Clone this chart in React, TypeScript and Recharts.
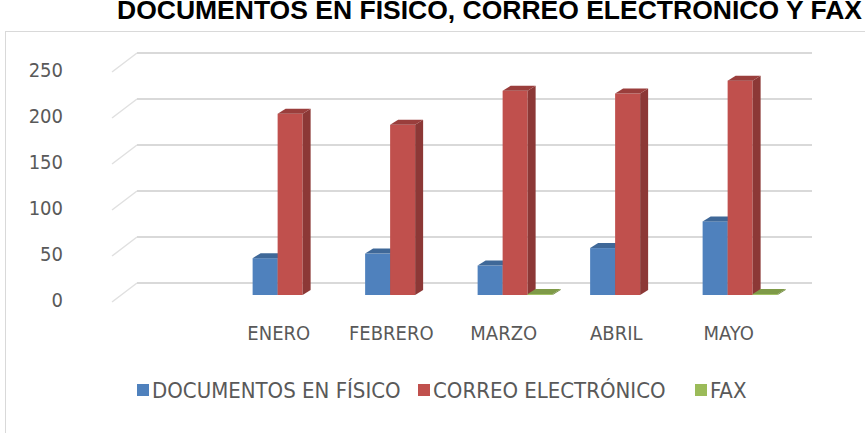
import { BarChart, Bar, XAxis, YAxis, CartesianGrid } from "recharts";

const months = ["", "ENERO", "FEBRERO", "MARZO", "ABRIL", "MAYO"];
const docs = [null, 40, 45, 32, 51, 80];
const email = [null, 197, 185, 222, 219, 233];
const fax = [null, null, null, 1, null, 1];
const yTicks = [0, 50, 100, 150, 200, 250];

const seriesNames = ["DOCUMENTOS EN FÍSICO", "CORREO ELECTRÓNICO", "FAX"];
const seriesColors = ["#4F81BD", "#C0504D", "#9BBB59"];
const sideColors = ["#385D8A", "#8C3836", "#71893F"];
const topColors = ["#3F6898", "#9A3E3C", "#7E9A47"];
const legendLeft = [137, 418, 695];

const data = months.map((m, i) => ({
  month: m,
  docs: docs[i],
  email: email[i],
  fax: fax[i],
}));

const FONT = '"Liberation Sans Narrow", "DejaVu Sans Condensed", sans-serif';
const TEXT = "#595959";
const DX = 8;
const DY = 5;

function make3D(idx: number, key: string) {
  return (props: any) => {
    const { x, y, width, height, payload } = props;
    if (x == null || payload == null || payload[key] == null) return <g />;
    const r = x + width;
    const b = y + height;
    return (
      <g>
        <rect x={x} y={y} width={width} height={Math.max(height, 0)} fill={seriesColors[idx]} />
        <polygon
          points={`${r},${y} ${r + DX},${y - DY} ${r + DX},${b - DY} ${r},${b}`}
          fill={sideColors[idx]}
        />
        <polygon
          points={`${x},${y} ${x + DX},${y - DY} ${r + DX},${y - DY} ${r},${y}`}
          fill={topColors[idx]}
        />
      </g>
    );
  };
}

// back-wall gridlines with the little floor stub on the left
const gridLine = (p: any) => {
  const y = p.y1;
  return (
    <g key={`g-${p.index}`}>
      <line x1={112} y1={y + 7} x2={137} y2={y - 12} stroke="#e0e0e0" strokeWidth={1.5} />
      <line x1={137} y1={y - 12} x2={812} y2={y - 12} stroke="#d9d9d9" strokeWidth={2} />
    </g>
  );
};

const YTick = (p: any) => (
  <text x={63} y={p.y + 5} dy={7} textAnchor="end" fill={TEXT} fontSize={20} fontFamily={FONT}>
    {p.payload.value}
  </text>
);

const XTick = (p: any) => (
  <text x={p.x - 11} y={340} textAnchor="middle" fill={TEXT} fontSize={20} fontFamily={FONT}>
    {p.payload.value}
  </text>
);

export default function App() {
  return (
    <div
      style={{
        position: "absolute",
        left: 0,
        top: 0,
        width: 865,
        height: 433,
        overflow: "hidden",
        background: "#fff",
      }}
    >
      <div
        style={{
          position: "absolute",
          left: 5,
          top: 31,
          width: 900,
          height: 500,
          border: "1.5px solid #d9d9d9",
        }}
      />
      <div
        style={{
          position: "absolute",
          left: 117,
          top: -5,
          whiteSpace: "nowrap",
          fontFamily: '"Liberation Sans", Arial, sans-serif',
          fontWeight: "bold",
          fontSize: 26.5,
          color: "#000",
          lineHeight: "30px",
        }}
      >
        DOCUMENTOS EN FÍSICO, CORREO ELECTRÓNICO Y FAX
      </div>
      <div style={{ position: "absolute", left: 0, top: 0 }}>
        <BarChart
          width={865}
          height={433}
          data={data}
          margin={{ top: 65, right: 69, bottom: 108, left: 0 }}
          barCategoryGap="17%"
          barGap={0}
        >
          <CartesianGrid horizontal={gridLine} vertical={false} />
          <YAxis
            domain={[0, 250]}
            ticks={yTicks}
            width={121}
            axisLine={false}
            tickLine={false}
            tick={YTick}
          />
          <XAxis dataKey="month" height={30} axisLine={false} tickLine={false} tick={XTick} interval={0} />
          <Bar dataKey="docs" isAnimationActive={false} shape={make3D(0, "docs")} />
          <Bar dataKey="email" isAnimationActive={false} shape={make3D(1, "email")} />
          <Bar dataKey="fax" isAnimationActive={false} shape={make3D(2, "fax")} />
        </BarChart>
      </div>
      {seriesNames.map((n, i) => (
        <div
          key={n}
          style={{
            position: "absolute",
            left: legendLeft[i],
            top: 377,
            height: 26,
            display: "flex",
            alignItems: "center",
            fontFamily: FONT,
            fontSize: 22,
            color: TEXT,
            whiteSpace: "nowrap",
          }}
        >
          <span
            style={{
              display: "inline-block",
              width: 12,
              height: 12,
              background: seriesColors[i],
              marginRight: 3,
            }}
          />
          <span>{n}</span>
        </div>
      ))}
    </div>
  );
}
